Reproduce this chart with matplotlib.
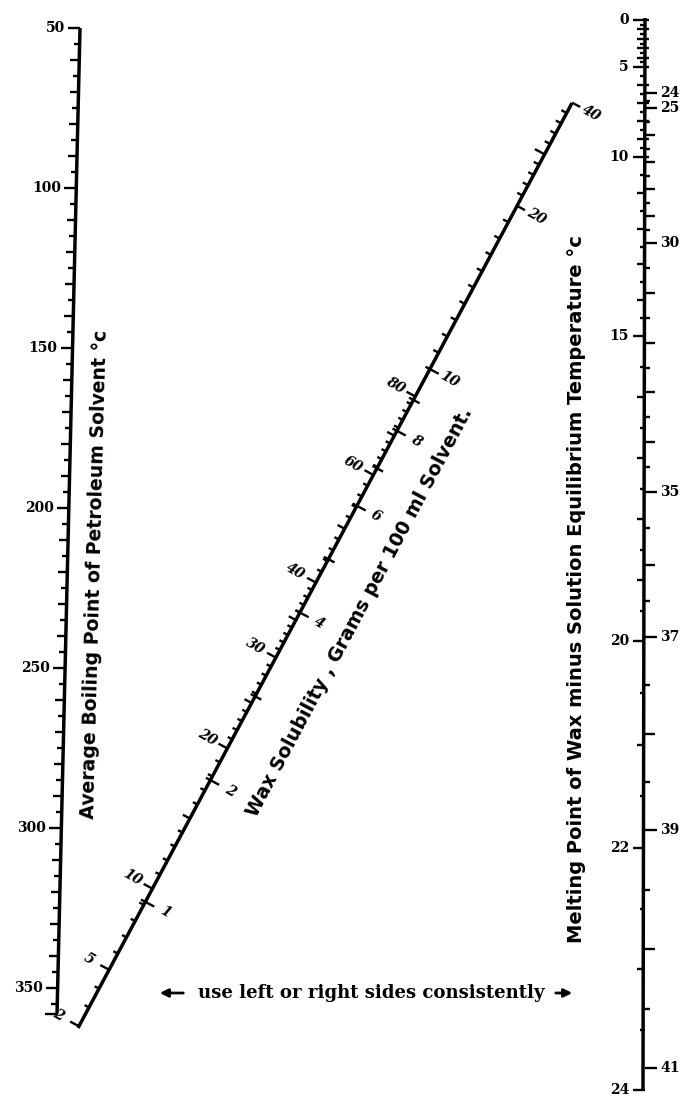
import numpy as np
import matplotlib.pyplot as plt
from matplotlib.collections import LineCollection

# ---- scale values read off the nomograph ----
# left column: average boiling point of petroleum solvent (deg C)
bp_labels = [50, 100, 150, 200, 250, 300, 350]
bp_ticks = list(range(50, 356, 5))
bp_end = 358

# right column, left side: melting point of wax minus solution eq. temperature
dt_labels = [0, 5, 10, 15, 20, 22, 24]
dt_ticks = [i * 0.5 for i in range(0, 49)]

# right column, right side
mp_labels = [24, 25, 30, 35, 37, 39, 41]
mp_ticks = [24 + i * 0.5 for i in range(0, 35)]

# diagonal, upper-left side: wax solubility, grams per 100 ml solvent
ws_labels = [2, 5, 10, 20, 30, 40, 60, 80]
ws_ticks = list(range(2, 40)) + list(range(40, 81, 2))

# diagonal, lower-right side
wr_labels = [1, 2, 4, 6, 8, 10, 20, 40]
wr_cross = list(range(1, 11))
wr_ticks = list(range(11, 20)) + list(range(22, 40, 2))

# ---- scale calibration (value -> position on the sheet, pixels) ----
bp_cal = ([50, 350], [28, 988])
dt_cal = ([0, 5, 10, 15, 20, 22, 24], [20, 67, 157, 336, 641, 848, 1090])
mp_cal = ([24, 25, 30, 35, 37, 39, 41], [93, 108, 243, 492, 637, 830, 1068])
ws_cal = ([2, 5, 10, 20, 30, 40, 60, 80], [2, 66, 158, 317, 420, 505, 627, 716])
wr_cal = ([1, 2, 4, 6, 8, 10, 20, 40], [143, 281, 471, 592, 677, 747, 932, 1049])

W, H = 683, 1099
fig = plt.figure(figsize=(W / 100, H / 100), dpi=100)
ax = fig.add_axes([0, 0, 1, 1])
ax.set_xlim(0, W)
ax.set_ylim(H, 0)
ax.axis('off')

num = dict(family='DejaVu Serif', fontweight='bold', fontsize=10, color='k')
ttl = dict(family='DejaVu Sans', fontweight='bold', color='k')


def lin(v, cal):
    return np.interp(v, cal[0], cal[1])


def bp_y(v):
    c0, c1 = bp_cal
    return c1[0] + (v - c0[0]) * (c1[1] - c1[0]) / (c0[1] - c0[0])


def bp_x(y):
    return 80 - 23 * (y - 28) / 987.0


def add_segs(segs, lw):
    ax.add_collection(LineCollection(segs, colors='k', linewidths=lw, capstyle='butt'))


# ---- left column ----
y_top, y_bot = bp_y(50), bp_y(bp_end)
ax.plot([bp_x(y_top), bp_x(y_bot)], [y_top, y_bot], color='k', lw=2.5, solid_capstyle='butt')
segs = []
for v in bp_ticks:
    y = bp_y(v)
    x = bp_x(y)
    ln = 12 if v in bp_labels else (9 if v % 10 == 0 else 6)
    segs.append([(x, y), (x - ln, y)])
segs.append([(bp_x(y_bot) + 1, y_bot), (bp_x(y_bot) - 12, y_bot)])
add_segs(segs, 1.7)
for v in bp_labels:
    y = bp_y(v)
    ax.text(bp_x(y) - 15, y, str(v), ha='right', va='center', **num)

ax.text(95, 574, 'Average Boiling Point of Petroleum Solvent °c', rotation=88.5,
        ha='center', va='center', rotation_mode='anchor', fontsize=13.6, **ttl)

# ---- right column ----
XR = 645
ax.plot([XR, XR - 2], [lin(0, dt_cal) - 2, lin(24, dt_cal)], color='k', lw=2.5,
        solid_capstyle='butt')
segs = []
for v in dt_ticks:
    y = lin(v, dt_cal)
    if v in dt_labels:
        ln = 12
    elif v == int(v):
        ln = 8
    else:
        ln = 5
    right = 4 if (v <= 10 and v == int(v)) else 0
    segs.append([(XR + right, y), (XR - ln, y)])
for v in mp_ticks:
    y = lin(v, mp_cal)
    if v in mp_labels:
        ln = 12
    elif v == int(v):
        ln = 10
    else:
        ln = 5
    segs.append([(XR, y), (XR + ln, y)])
add_segs(segs, 1.7)
for v in dt_labels:
    ax.text(XR - 16, lin(v, dt_cal), str(v), ha='right', va='center', **num)
for v in mp_labels:
    ax.text(XR + 15, lin(v, mp_cal), str(v), ha='left', va='center', **num)

ax.text(577, 589, 'Melting Point of Wax minus Solution Equilibrium Temperature °c',
        rotation=90, ha='center', va='center', rotation_mode='anchor', fontsize=14, **ttl)

# ---- diagonal scale ----
P0 = np.array([78.0, 1028.0])
P1 = np.array([572.0, 103.0])
L = np.hypot(*(P1 - P0))
d = (P1 - P0) / L
nL = np.array([d[1], -d[0]])   # upper-left side
nR = -nL                        # lower-right side


def pt(s):
    return P0 + s * d


ax.plot([P0[0], P1[0]], [P0[1], P1[1]], color='k', lw=2.5, solid_capstyle='butt')
segs = []
for v in ws_ticks:
    p = pt(lin(v, ws_cal))
    ln = 10 if v in ws_labels else (8 if v % 5 == 0 else 5)
    segs.append([tuple(p), tuple(p + nL * ln)])
for v in wr_cross:
    p = pt(lin(v, wr_cal))
    segs.append([tuple(p + nL * 5), tuple(p + nR * (10 if v in wr_labels else 7))])
for v in wr_ticks:
    p = pt(lin(v, wr_cal))
    segs.append([tuple(p), tuple(p + nL * (11 if v == 30 else 6))])
for v in (20, 40):
    p = pt(lin(v, wr_cal))
    segs.append([tuple(p), tuple(p + nR * 9)])
add_segs(segs, 1.7)

for v in ws_labels:
    p = pt(lin(v, ws_cal)) + nL * 23
    ax.text(p[0], p[1], str(v), ha='center', va='center', rotation=-30,
            style='italic', **num)
for v in wr_labels:
    p = pt(lin(v, wr_cal)) + nR * 22
    ax.text(p[0], p[1], str(v), ha='center', va='center', rotation=-30,
            style='italic', **num)

ax.text(360, 612, 'Wax Solubility , Grams per 100 ml Solvent.', rotation=62,
        ha='center', va='center', rotation_mode='anchor', fontsize=13.7, **ttl)

# ---- note at the bottom ----
ax.text(371, 993, 'use left or right sides consistently', ha='center', va='center',
        family='DejaVu Serif', fontweight='bold', fontsize=13.1)
ax.annotate('', xy=(157, 993), xytext=(186, 993),
            arrowprops=dict(arrowstyle='-|>', color='k', lw=2, mutation_scale=12))
ax.annotate('', xy=(575, 993), xytext=(553, 993),
            arrowprops=dict(arrowstyle='-|>', color='k', lw=2, mutation_scale=12))

fig.savefig('out.png', dpi=100, facecolor='white')
